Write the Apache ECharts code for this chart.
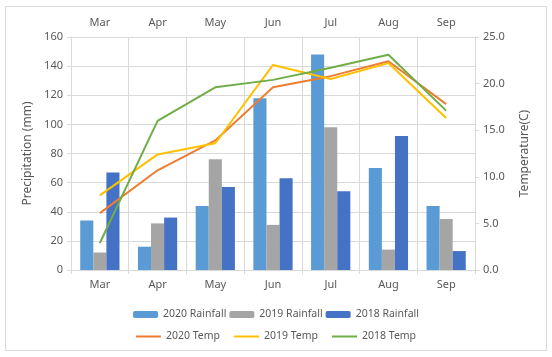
<!DOCTYPE html>
<html><head><meta charset="utf-8">
<script src="https://cdn.jsdelivr.net/npm/echarts@6/dist/echarts.min.js"></script>
<style>html,body{margin:0;padding:0;background:#fff}#c{width:552px;height:357px}</style>
</head><body><div id="c"></div>
<script>
const months = ['Mar','Apr','May','Jun','Jul','Aug','Sep'];
const rain2020 = [34, 16, 44, 118, 148, 70, 44];
const rain2019 = [12, 32, 76, 31, 98, 14, 35];
const rain2018 = [67, 36, 57, 63, 54, 92, 13];
const temp2020 = [6.1, 10.7, 13.9, 19.6, 20.8, 22.4, 17.8];
const temp2019 = [8.0, 12.4, 13.6, 22.0, 20.5, 22.2, 16.3];
const temp2018 = [2.9, 16.0, 19.6, 20.4, 21.7, 23.1, 17.1];

const FONT = 'Noto Sans';
const txt = '#595959';
const chart = echarts.init(document.getElementById('c'));
const catAxis = (pos) => ({
  type: 'category', data: months, position: pos,
  axisLine: {show: true, lineStyle: {color: '#d9d9d9'}},
  axisTick: {show: true, lineStyle: {color: '#d9d9d9'}, length: 4},
  axisLabel: {color: txt, fontFamily: FONT, fontSize: 11, margin: 9},
  splitLine: {show: pos === 'bottom', lineStyle: {color: '#d9d9d9'}}
});
chart.setOption({
  animation: false,
  textStyle: {fontFamily: FONT},
  graphic: [{type: 'rect', shape: {x: 5.5, y: 6.5, width: 541, height: 344},
    style: {fill: 'none', stroke: '#d9d9d9', lineWidth: 1}, z: -1}],
  grid: {left: 71, right: 77, top: 37, bottom: 87},
  legend: [
    {data: ['2020 Rainfall', '2019 Rainfall', '2018 Rainfall'], top: 304, left: 'center',
     itemWidth: 25, itemHeight: 7, itemGap: 3, textStyle: {color: txt, fontSize: 10.5, fontFamily: FONT}},
    {data: ['2020 Temp', '2019 Temp', '2018 Temp'], top: 326, left: 'center', icon: 'rect',
     itemWidth: 25, itemHeight: 2, itemGap: 14, textStyle: {color: txt, fontSize: 10.5, fontFamily: FONT}}
  ],
  xAxis: [catAxis('bottom'), catAxis('top')],
  yAxis: [
    {type: 'value', min: 0, max: 160, interval: 20, name: 'Precipitation (mm)',
     nameLocation: 'middle', nameGap: 36, nameTextStyle: {color: txt, fontSize: 12, fontFamily: FONT},
     axisLine: {show: true, lineStyle: {color: '#d9d9d9'}}, axisTick: {show: true, length: 4, lineStyle: {color: '#d9d9d9'}},
     axisLabel: {color: txt, fontSize: 11, fontFamily: FONT, margin: 8},
     splitLine: {lineStyle: {color: '#d9d9d9'}}},
    {type: 'value', min: 0, max: 25, interval: 5, name: 'Temperature(C)', position: 'right',
     nameLocation: 'middle', nameGap: 44, nameRotate: 90, nameTextStyle: {color: txt, fontSize: 12, fontFamily: FONT},
     axisLine: {show: true, lineStyle: {color: '#d9d9d9'}}, axisTick: {show: true, length: 4, lineStyle: {color: '#d9d9d9'}},
     axisLabel: {color: txt, fontSize: 11, fontFamily: FONT, margin: 8, formatter: v => v.toFixed(1)},
     splitLine: {show: false}}
  ],
  series: [
    {name: '2020 Rainfall', type: 'bar', data: rain2020, itemStyle: {color: '#5B9BD5'}, barGap: '0%', barCategoryGap: '32%'},
    {name: '2019 Rainfall', type: 'bar', data: rain2019, itemStyle: {color: '#A5A5A5'}, barGap: '0%', barCategoryGap: '32%'},
    {name: '2018 Rainfall', type: 'bar', data: rain2018, itemStyle: {color: '#4472C4'}, barGap: '0%', barCategoryGap: '32%'},
    {name: '2020 Temp', type: 'line', xAxisIndex: 1, yAxisIndex: 1, data: temp2020, symbol: 'none', lineStyle: {color: '#ED7D31', width: 2}, itemStyle: {color: '#ED7D31'}},
    {name: '2019 Temp', type: 'line', xAxisIndex: 1, yAxisIndex: 1, data: temp2019, symbol: 'none', lineStyle: {color: '#FFC000', width: 2}, itemStyle: {color: '#FFC000'}},
    {name: '2018 Temp', type: 'line', xAxisIndex: 1, yAxisIndex: 1, data: temp2018, symbol: 'none', lineStyle: {color: '#70AD47', width: 2}, itemStyle: {color: '#70AD47'}}
  ]
});
</script></body></html>
